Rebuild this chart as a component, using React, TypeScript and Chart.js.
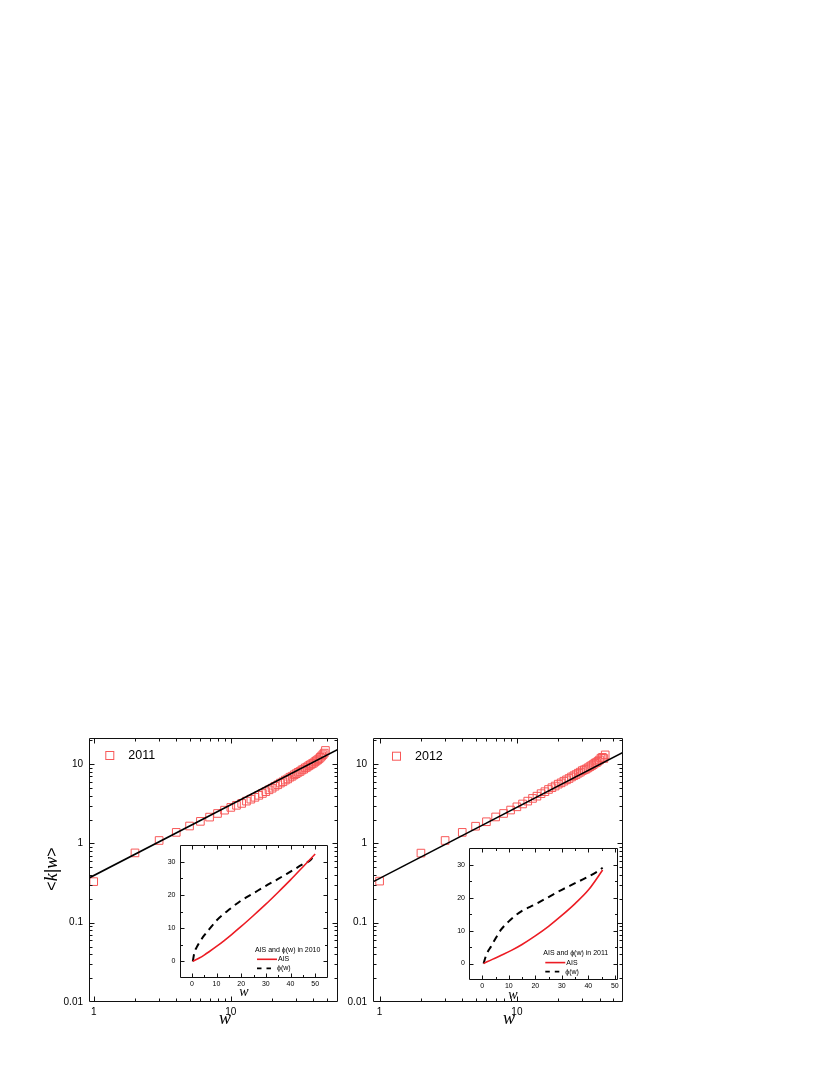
import React, { useEffect, useRef } from "react";
import { Chart, registerables } from "chart.js";
Chart.register(...registerables);

// ---------- data ----------
const W_2011 = [1, 2, 3, 4, 5, 6, 7, 8, 9, 10, 11, 12, 13, 14, 15, 16, 17, 18, 19, 20, 21, 22, 23, 24, 25, 26, 27, 28, 29, 30, 31, 32, 33, 34, 35, 36, 37, 38, 39, 40, 41, 42, 43, 44, 45, 46, 47, 48, 49];
const K_2011 = [0.33, 0.76, 1.09, 1.38, 1.66, 1.9, 2.15, 2.39, 2.63, 2.85, 3.03, 3.2, 3.42, 3.62, 3.82, 4.05, 4.27, 4.5, 4.75, 4.98, 5.27, 5.5, 5.78, 6.0, 6.3, 6.52, 6.85, 7.05, 7.35, 7.6, 7.9, 8.1, 8.45, 8.65, 9.0, 9.2, 9.55, 9.8, 10.1, 10.3, 10.7, 11.0, 11.35, 11.7, 12.2, 12.7, 13.2, 13.8, 14.9];
const W_2012 = [1, 2, 3, 4, 5, 6, 7, 8, 9, 10, 11, 12, 13, 14, 15, 16, 17, 18, 19, 20, 21, 22, 23, 24, 25, 26, 27, 28, 29, 30, 31, 32, 33, 34, 35, 36, 37, 38, 39, 40, 41, 42, 43, 44];
const K_2012 = [0.335, 0.756, 1.09, 1.38, 1.65, 1.88, 2.16, 2.39, 2.64, 2.9, 3.15, 3.42, 3.7, 3.95, 4.25, 4.5, 4.8, 5.05, 5.3, 5.6, 5.82, 6.1, 6.35, 6.6, 6.9, 7.15, 7.4, 7.7, 7.95, 8.3, 8.5, 8.7, 9.0, 9.3, 9.6, 9.9, 10.3, 10.5, 10.9, 11.3, 11.9, 12.2, 11.8, 13.1];

const FIT_2011_W = [0.9, 62];
const FIT_2011_K = [0.358, 15.7];
const FIT_2012_W = [0.9, 62];
const FIT_2012_K = [0.33, 14.7];

const AIS_2010_W = [0.4, 1, 2, 3, 5, 7, 10, 13, 16, 20, 25, 30, 35, 40, 45, 50];
const AIS_2010_K = [0, 0.26, 0.62, 1.0, 1.9, 2.9, 4.5, 6.2, 8.0, 10.5, 13.8, 17.2, 20.8, 24.5, 28.4, 32.3];
const PHI_2010_W = [0.4, 1, 2, 3, 5, 7, 10, 15, 20, 25, 30, 35, 40, 45, 48, 50];
const PHI_2010_K = [0, 2.5, 4.3, 5.6, 7.8, 9.6, 12.3, 15.5, 18.3, 20.5, 22.7, 24.8, 27.0, 29.2, 30.4, 32.3];

const AIS_2011_W = [0.5, 2, 5, 8, 11, 15, 20, 25, 30, 35, 40, 45.4];
const AIS_2011_K = [0, 0.6, 1.7, 2.8, 4.0, 5.8, 8.4, 11.3, 14.6, 18.2, 22.3, 28.4];
const PHI_2011_W = [0.5, 1.5, 3.4, 5, 7, 10, 12.2, 15, 20, 25, 30, 35, 38.5, 43.5, 45.4];
const PHI_2011_K = [0, 2.6, 5.3, 7.6, 10.2, 12.8, 14.4, 16.0, 18.0, 20.2, 22.4, 24.4, 25.8, 28.0, 29.1];

const MAIN_X_TICKS = [1, 2, 3, 4, 5, 6, 7, 8, 9, 10, 20, 30, 40, 50, 60];
const MAIN_X_MAJOR = [1, 10];
const MAIN_X_LABELS = ["1", "10"];
const MAIN_Y_TICKS = [0.01, 0.02, 0.03, 0.04, 0.05, 0.06, 0.07, 0.08, 0.09, 0.1, 0.2, 0.3, 0.4, 0.5, 0.6, 0.7, 0.8, 0.9, 1, 2, 3, 4, 5, 6, 7, 8, 9, 10, 20];
const MAIN_Y_MAJOR = [0.01, 0.1, 1, 10];
const MAIN_Y_LABELS = ["0.01", "0.1", "1", "10"];

const INSET_X_TICKS = [-5, 0, 5, 10, 15, 20, 25, 30, 35, 40, 45, 50, 55];
const INSET_X_MAJOR = [0, 10, 20, 30, 40, 50];
const INSET_X_LABELS = ["0", "10", "20", "30", "40", "50"];
const INSET_Y_TICKS = [-5, 0, 5, 10, 15, 20, 25, 30, 35];
const INSET_Y_MAJOR = [0, 10, 20, 30];
const INSET_Y_LABELS = ["0", "10", "20", "30"];

const LEGEND_MAIN_L = "2011";
const LEGEND_MAIN_R = "2012";
const INSET_TITLE_L = "AIS and \u03D5(w) in 2010";
const INSET_TITLE_R = "AIS and \u03D5(w) in 2011";
const AIS_LABEL = "AIS";
const PHI_LABEL = "\u03D5(w)";

// ---------- styling helpers ----------
const SANS = '"Liberation Sans", Arial, sans-serif';
const SERIF = '"Liberation Serif", "Times New Roman", serif';
const MARKER = "rgb(248,88,88)";
const RED = "rgb(236,28,36)";

const pts = (xs: number[], ys: number[]) => xs.map((x, i) => ({ x, y: ys[i] }));

function drawFrame(chart: any, xMajor: number[], yMajor: number[], majLen: number, minLen: number) {
  const { ctx, chartArea: a } = chart;
  const xs = chart.scales.x;
  const ys = chart.scales.y;
  const L = Math.round(a.left) + 0.5;
  const R = Math.round(a.right) - 0.5;
  const T = Math.round(a.top) + 0.5;
  const B = Math.round(a.bottom) - 0.5;
  ctx.save();
  ctx.strokeStyle = "#111";
  ctx.lineWidth = 1;
  ctx.beginPath();
  ctx.rect(L, T, R - L, B - T);
  for (const t of xs.ticks) {
    const p = Math.round(xs.getPixelForValue(t.value)) + 0.5;
    if (p <= L + 1 || p >= R - 1) continue;
    const len = xMajor.includes(t.value) ? majLen : minLen;
    ctx.moveTo(p, B);
    ctx.lineTo(p, B - len);
    ctx.moveTo(p, T);
    ctx.lineTo(p, T + len);
  }
  for (const t of ys.ticks) {
    const p = Math.round(ys.getPixelForValue(t.value)) + 0.5;
    if (p <= T + 1 || p >= B - 1) continue;
    const len = yMajor.includes(t.value) ? majLen : minLen;
    ctx.moveTo(L, p);
    ctx.lineTo(L + len, p);
    ctx.moveTo(R, p);
    ctx.lineTo(R - len, p);
  }
  ctx.stroke();
  ctx.restore();
}

function drawYTitle(ctx: CanvasRenderingContext2D, x: number, y: number) {
  const parts = [
    { t: "<", f: `16px ${SANS}` },
    { t: "k", f: `italic 18px ${SERIF}` },
    { t: "|", f: `18px ${SANS}` },
    { t: "w", f: `italic 18px ${SERIF}` },
    { t: ">", f: `16px ${SANS}` },
  ];
  ctx.save();
  ctx.translate(x, y);
  ctx.rotate(-Math.PI / 2);
  let total = 0;
  const widths = parts.map((p) => {
    ctx.font = p.f;
    const w = ctx.measureText(p.t).width;
    total += w;
    return w;
  });
  let cx = -total / 2;
  ctx.fillStyle = "#000";
  ctx.textBaseline = "alphabetic";
  parts.forEach((p, i) => {
    ctx.font = p.f;
    ctx.fillText(p.t, cx, 6);
    cx += widths[i];
  });
  ctx.restore();
}

function labelFor(ticks: number[], labels: string[]) {
  return (v: any) => {
    const i = ticks.indexOf(Number(v));
    return i >= 0 ? labels[i] : "";
  };
}

type MainSpec = {
  w: number[];
  k: number[];
  fw: number[];
  fk: number[];
  xmin: number;
  xmax: number;
  ly: number;
  pt: number;
  pr: number;
  bx: number;
  legend: string;
  legendPos: [number, number];
  xTitlePos: [number, number];
  yTitlePos: [number, number] | null;
};

function mainConfig(s: MainSpec): any {
  const deco = {
    id: "mainDeco",
    afterDraw(chart: any) {
      drawFrame(chart, MAIN_X_MAJOR, MAIN_Y_MAJOR, 5, 3);
      const ctx = chart.ctx as CanvasRenderingContext2D;
      ctx.save();
      const [lx, ly] = s.legendPos;
      ctx.strokeStyle = MARKER;
      ctx.lineWidth = 1;
      ctx.strokeRect(lx - 3.5, ly - 3.5, 8, 8);
      ctx.fillStyle = "#000";
      ctx.font = `12.5px ${SANS}`;
      ctx.textBaseline = "middle";
      ctx.textAlign = "left";
      ctx.fillText(s.legend, lx + 19, ly + 1);
      ctx.font = `italic 18px ${SERIF}`;
      ctx.textAlign = "center";
      ctx.textBaseline = "alphabetic";
      ctx.fillText("w", s.xTitlePos[0], s.xTitlePos[1]);
      ctx.restore();
      if (s.yTitlePos) drawYTitle(ctx, s.yTitlePos[0], s.yTitlePos[1]);
    },
  };
  return {
    type: "scatter",
    data: {
      datasets: [
        {
          data: pts(s.fw, s.fk),
          showLine: true,
          borderColor: "#000",
          borderWidth: 1.6,
          pointRadius: 0,
        },
        {
          data: pts(s.w, s.k),
          pointStyle: "rect",
          pointRadius: 5.4,
          borderWidth: 1,
          borderColor: MARKER,
          backgroundColor: "rgba(0,0,0,0)",
        },
      ],
    },
    options: {
      animation: false,
      responsive: false,
      maintainAspectRatio: false,
      devicePixelRatio: 1,
      layout: { padding: { top: s.pt, right: s.pr, left: 0, bottom: 0 } },
      plugins: { legend: { display: false }, tooltip: { enabled: false } },
      scales: {
        x: {
          type: "logarithmic",
          min: s.xmin,
          max: s.xmax,
          grid: { display: false, drawTicks: false },
          border: { display: false },
          afterBuildTicks: (sc: any) => {
            sc.ticks = MAIN_X_TICKS.filter((v) => v >= s.xmin && v <= s.xmax).map((v) => ({ value: v }));
          },
          afterFit: (sc: any) => {
            sc.height = s.bx;
          },
          ticks: {
            autoSkip: false,
            maxRotation: 0,
            padding: 4,
            color: "#000",
            font: { family: SANS, size: 10 },
            callback: labelFor(MAIN_X_MAJOR, MAIN_X_LABELS),
          },
        },
        y: {
          type: "logarithmic",
          min: 0.01,
          max: 21.4,
          grid: { display: false, drawTicks: false },
          border: { display: false },
          afterBuildTicks: (sc: any) => {
            sc.ticks = MAIN_Y_TICKS.map((v) => ({ value: v }));
          },
          afterFit: (sc: any) => {
            sc.width = s.ly;
          },
          ticks: {
            autoSkip: false,
            padding: 6,
            color: "#000",
            font: { family: SANS, size: 10 },
            callback: labelFor(MAIN_Y_MAJOR, MAIN_Y_LABELS),
          },
        },
      },
    },
    plugins: [deco],
  };
}

type InsetSpec = {
  aw: number[];
  ak: number[];
  pw: number[];
  pk: number[];
  xmin: number;
  xmax: number;
  ly: number;
  pt: number;
  pr: number;
  bx: number;
  title: string;
  legendX: number;
  legendY: number;
  xTitlePos: [number, number];
};

function insetConfig(s: InsetSpec): any {
  const deco = {
    id: "insetDeco",
    afterDraw(chart: any) {
      drawFrame(chart, INSET_X_MAJOR, INSET_Y_MAJOR, 4, 2.5);
      const ctx = chart.ctx as CanvasRenderingContext2D;
      ctx.save();
      const x = s.legendX;
      const y = s.legendY;
      ctx.fillStyle = "#000";
      ctx.font = `7px ${SANS}`;
      ctx.textBaseline = "middle";
      ctx.textAlign = "left";
      ctx.fillText(s.title, x, y);
      ctx.strokeStyle = RED;
      ctx.lineWidth = 1.6;
      ctx.beginPath();
      ctx.moveTo(x + 2, y + 9.3);
      ctx.lineTo(x + 22, y + 9.3);
      ctx.stroke();
      ctx.fillText(AIS_LABEL, x + 23, y + 9.3);
      ctx.strokeStyle = "#000";
      ctx.lineWidth = 1.8;
      ctx.setLineDash([4.5, 5]);
      ctx.beginPath();
      ctx.moveTo(x + 2, y + 18.3);
      ctx.lineTo(x + 16, y + 18.3);
      ctx.stroke();
      ctx.setLineDash([]);
      ctx.fillText(PHI_LABEL, x + 22, y + 18.3);
      ctx.font = `italic 14px ${SERIF}`;
      ctx.textAlign = "center";
      ctx.textBaseline = "alphabetic";
      ctx.fillText("w", s.xTitlePos[0], s.xTitlePos[1]);
      ctx.restore();
    },
  };
  return {
    type: "scatter",
    data: {
      datasets: [
        {
          data: pts(s.aw, s.ak),
          showLine: true,
          borderColor: RED,
          borderWidth: 1.6,
          pointRadius: 0,
          cubicInterpolationMode: "monotone",
        },
        {
          data: pts(s.pw, s.pk),
          showLine: true,
          borderColor: "#000",
          borderWidth: 2,
          borderDash: [7, 5],
          pointRadius: 0,
          cubicInterpolationMode: "monotone",
        },
      ],
    },
    options: {
      animation: false,
      responsive: false,
      maintainAspectRatio: false,
      devicePixelRatio: 1,
      layout: { padding: { top: s.pt, right: s.pr, left: 0, bottom: 0 } },
      plugins: { legend: { display: false }, tooltip: { enabled: false } },
      scales: {
        x: {
          type: "linear",
          min: s.xmin,
          max: s.xmax,
          grid: { display: false, drawTicks: false },
          border: { display: false },
          afterBuildTicks: (sc: any) => {
            sc.ticks = INSET_X_TICKS.filter((v) => v >= s.xmin && v <= s.xmax).map((v) => ({ value: v }));
          },
          afterFit: (sc: any) => {
            sc.height = s.bx;
          },
          ticks: {
            autoSkip: false,
            maxRotation: 0,
            padding: 2,
            color: "#000",
            font: { family: SANS, size: 7 },
            callback: labelFor(INSET_X_MAJOR, INSET_X_LABELS),
          },
        },
        y: {
          type: "linear",
          min: -5,
          max: 35,
          grid: { display: false, drawTicks: false },
          border: { display: false },
          afterBuildTicks: (sc: any) => {
            sc.ticks = INSET_Y_TICKS.map((v) => ({ value: v }));
          },
          afterFit: (sc: any) => {
            sc.width = s.ly;
          },
          ticks: {
            autoSkip: false,
            padding: 4,
            color: "#000",
            font: { family: SANS, size: 7 },
            callback: labelFor(INSET_Y_MAJOR, INSET_Y_LABELS),
          },
        },
      },
    },
    plugins: [deco],
  };
}

function ChartCanvas({ config, left, top, width, height }: { config: any; left: number; top: number; width: number; height: number }) {
  const ref = useRef<HTMLCanvasElement | null>(null);
  useEffect(() => {
    if (!ref.current) return;
    const c = new Chart(ref.current, config);
    return () => c.destroy();
  }, []);
  return (
    <canvas
      ref={ref}
      width={width}
      height={height}
      style={{ position: "absolute", left: left - 8, top: top - 8, width, height }}
    />
  );
}

export default function App() {
  const mainL = mainConfig({
    w: W_2011,
    k: K_2011,
    fw: FIT_2011_W,
    fk: FIT_2011_K,
    xmin: 0.924,
    xmax: 60.5,
    ly: 69,
    pt: 10,
    pr: 12,
    bx: 24,
    legend: LEGEND_MAIN_L,
    legendPos: [89.3, 29],
    xTitlePos: [205, 298],
    yTitlePos: [31, 143],
  });
  const mainR = mainConfig({
    w: W_2012,
    k: K_2012,
    fw: FIT_2012_W,
    fk: FIT_2012_K,
    xmin: 0.895,
    xmax: 59,
    ly: 63,
    pt: 10,
    pr: 12.3,
    bx: 24,
    legend: LEGEND_MAIN_R,
    legendPos: [86, 29.7],
    xTitlePos: [199, 298],
    yTitlePos: null,
  });
  const insetL = insetConfig({
    aw: AIS_2010_W,
    ak: AIS_2010_K,
    pw: PHI_2010_W,
    pk: PHI_2010_K,
    xmin: -5,
    xmax: 55,
    ly: 29.5,
    pt: 10,
    pr: 7.5,
    bx: 22,
    title: INSET_TITLE_L,
    legendX: 105,
    legendY: 115,
    xTitlePos: [94, 161],
  });
  const insetR = insetConfig({
    aw: AIS_2011_W,
    ak: AIS_2011_K,
    pw: PHI_2011_W,
    pk: PHI_2011_K,
    xmin: -5,
    xmax: 51,
    ly: 29,
    pt: 10.3,
    pr: 7.5,
    bx: 23,
    title: INSET_TITLE_R,
    legendX: 103.3,
    legendY: 115.3,
    xTitlePos: [73, 161],
  });
  return (
    <div style={{ position: "relative", width: 814, height: 1059 }}>
      <ChartCanvas config={mainL} left={20} top={726} width={330} height={300} />
      <ChartCanvas config={mainR} left={310} top={726} width={325} height={300} />
      <ChartCanvas config={insetL} left={150} top={835} width={185} height={165} />
      <ChartCanvas config={insetR} left={440} top={838} width={185} height={165} />
    </div>
  );
}
